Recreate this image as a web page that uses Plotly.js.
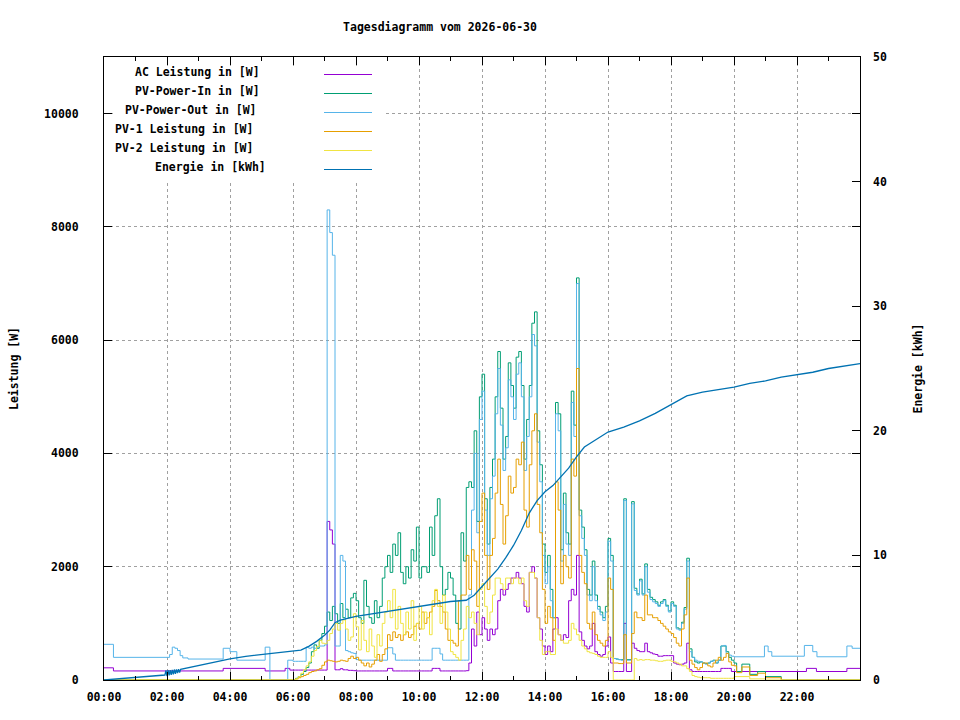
<!DOCTYPE html>
<html>
<head>
<meta charset="utf-8">
<script src="https://cdn.plot.ly/plotly-3.0.1.min.js"></script>
<style>
html,body{margin:0;padding:0;background:#fff;}
#chart{width:960px;height:720px;}
</style>
</head>
<body>
<div id="chart"></div>
<script>
// ---------- DATA ----------
const chartTitle = "Tagesdiagramm vom 2026-06-30";
const seriesNames = ["AC Leistung in [W]", "PV-Power-In in [W]", "PV-Power-Out in [W]",
                     "PV-1 Leistung in [W]", "PV-2 Leistung in [W]", "Energie in [kWh]"];
const xTickLabels = ["00:00","02:00","04:00","06:00","08:00","10:00","12:00","14:00","16:00","18:00","20:00","22:00"];
const yTickValues = [0,2000,4000,6000,8000,10000];
const yTickLabels = ["0","2000","4000","6000","8000","10000"];
const y2TickValues = [0,10,20,30,40,50];
const y2TickLabels = ["0","10","20","30","40","50"];

// night breakpoints (00:00 - 06:00)
const acNightT  = ["00:00","00:18","03:47","05:07","05:45","05:54"];
const acNightV  = [215,160,205,160,205,175];
const outNightT = ["00:00","00:18","02:05","02:10","02:15","02:20","02:25","02:30","02:40","03:47","04:00","04:13","05:07","05:16","05:50"];
const outNightV = [630,400,450,580,560,520,430,390,370,560,500,350,580,0,350];
const inNightT  = ["00:00"];
const inNightV  = [0];
const pv1NightT = ["00:00"];
const pv1NightV = [0];
const pv2NightT = ["00:00"];
const pv2NightV = [0];

// day values, 5-minute readings from 06:00 to 19:55 (one row per hour)
const acDay = [
 175,175,175,175,175,175,175,175,175,175,175,175,
 175,2800,2650,2400,180,180,200,180,180,170,170,165,
 160,160,160,160,160,160,160,160,160,160,160,160,
 205,205,160,160,160,160,160,160,160,160,160,160,
 160,160,160,160,160,205,205,205,160,160,160,160,
 160,160,160,160,160,160,165,300,900,600,1200,800,
 1100,900,700,900,800,900,1400,1600,1500,1600,1700,1800,
 1800,1900,1800,1700,1300,1200,1900,2000,1800,1100,900,600,
 450,600,500,900,1100,800,700,800,750,1400,1600,1500,
 2200,850,700,600,550,600,1000,500,450,420,450,600,
 760,300,150,150,150,150,1000,150,150,650,560,520,
 500,500,650,500,480,460,450,420,420,430,430,430,
 430,300,280,270,280,300,650,180,150,150,150,150,
 150,150,150,150,150,150,150,205,205,205,205,150
];
const inDay = [
 0,30,60,100,150,220,300,500,620,560,700,820,
 950,1200,1050,1300,1170,1000,1350,1100,1250,1100,1450,1530,
 1400,1100,1000,1760,1300,1100,1000,1400,1100,1300,1800,2000,
 2200,1900,2400,2200,2600,1900,1700,2000,1800,2300,2100,2700,
 1800,2000,2000,1900,2700,2200,2900,3200,2000,1500,1600,1900,
 1800,1500,1000,900,2600,2100,3400,3500,3400,4400,2800,5000,
 5400,3200,2400,3400,3900,5000,5800,4800,3900,4300,5600,5200,
 4800,5700,5800,5200,3900,4600,5200,6300,6500,4400,3800,2400,
 1900,2200,1600,1100,4900,4700,2300,3300,2600,2400,5100,4500,
 7100,3000,2700,2300,1600,1500,2100,1500,1300,1200,1100,1300,
 2500,2200,380,370,360,360,3200,360,360,3150,1620,1520,
 1780,1520,2050,1600,1460,1420,1380,1320,1380,1420,1320,1220,
 1380,1320,920,900,1020,1280,2150,550,400,320,300,320,
 300,290,300,330,350,300,350,600,600,500,400,350
];
const outDay = [
 330,330,330,330,330,580,560,580,560,580,600,600,
 620,8300,7900,7500,600,600,2200,2100,520,500,480,470,
 360,350,350,350,350,350,350,350,350,350,350,350,
 570,570,460,350,350,350,350,350,350,350,350,350,
 350,350,350,350,350,560,560,560,460,350,350,350,
 350,350,350,350,350,350,350,1500,3000,4000,2600,4600,
 5100,3000,2200,3200,3600,4700,5500,4500,3700,4100,5300,5000,
 4600,5400,5600,5000,3700,4300,5000,6100,5900,4200,3500,2200,
 1700,2000,1400,1100,4700,4400,2100,3100,2400,2200,4900,4300,
 7000,2900,2500,2200,1500,1400,2000,1400,1250,1150,1050,1200,
 2450,2100,380,370,360,350,3170,350,350,3110,1580,1500,
 1750,1500,2000,1550,1420,1380,1350,1300,1350,1400,1300,1200,
 1350,1300,900,880,1000,1250,2100,500,400,350,330,320,
 300,280,300,330,340,300,350,600,610,470,440,420
];
const pv1Day = [
 0,20,40,60,80,100,130,150,160,180,200,260,
 320,350,340,330,320,330,350,340,330,380,420,380,
 400,350,300,250,300,230,280,350,450,330,450,550,
 800,700,850,750,800,700,800,850,750,800,950,1000,
 900,1200,1000,1100,1200,1300,1580,1400,1300,1200,900,700,
 700,650,600,1400,1500,1500,2200,1600,2300,2100,1300,2800,
 3300,2200,1600,2200,2500,3300,3900,3100,2400,2900,3600,3300,
 3400,3900,3800,4200,3000,2700,3800,4400,4700,3100,2600,1600,
 1000,1300,1100,700,3500,3000,1700,2200,2000,1800,3900,3600,
 5500,2200,1900,1700,1000,900,1200,800,700,650,600,700,
 1800,1600,300,300,290,290,800,300,300,820,1200,1100,
 1100,1050,1500,1150,1150,1100,1100,1050,1000,950,900,850,
 820,750,650,600,900,1150,1800,350,280,220,180,220,
 300,300,250,230,300,350,400,350,400,470,320,260
];
const pv2Day = [
 0,20,60,120,180,250,320,420,520,590,700,650,
 640,700,820,900,1000,880,1000,1060,900,700,760,1170,
 940,530,1050,700,500,900,600,400,800,600,1000,1200,
 1400,1100,1600,900,1300,1000,800,1200,900,1400,700,1000,
 1300,900,1200,1100,800,1400,1600,1300,1000,1500,1200,900,
 500,450,400,350,700,900,1300,1100,1200,1000,800,1600,
 1700,1300,1000,1200,1500,1800,1800,1700,1600,1800,1800,1700,
 1800,1800,1700,1800,1400,1300,1900,1900,1800,1100,700,450,
 500,500,450,450,900,800,700,650,650,700,1000,900,
 800,700,600,550,500,480,470,450,420,400,400,400,
 500,400,0,0,0,0,0,0,0,0,380,350,
 360,350,360,360,350,350,340,330,330,340,350,350,
 330,320,300,280,250,250,200,150,80,60,50,40,
 40,40,40,30,30,30,30,30,30,30,30,30
];

// evening breakpoints (20:00 - 24:00)
const acEveT  = ["20:00","22:18","22:37","23:35","24:00"];
const acEveV  = [150,205,150,205,205];
const outEveT = ["20:00","20:58","21:05","21:12","22:14","22:30","22:38","23:35","23:45","24:00"];
const outEveV = [410,600,500,420,610,500,410,600,560,560];
const inEveT  = ["20:00","20:05","20:15","20:30","20:45","21:00","21:30","24:00"];
const inEveV  = [300,150,280,100,150,60,0,0];
const pv1EveT = ["20:00","20:05","20:15","20:30","20:45","21:00","21:30","24:00"];
const pv1EveV = [250,130,230,80,120,40,0,0];
const pv2EveT = ["20:00","20:30","21:00","24:00"];
const pv2EveV = [60,20,0,0];

// energy (kWh)
const energyT = ["00:00","01:56","01:58","02:00","02:02","02:04","02:06","02:08","02:10","02:12","02:14","02:16","02:18","02:20","02:22","02:24","02:26",
  "03:00","03:30","04:00","04:30","05:00","05:30","06:00","06:15","06:30","06:45","07:00","07:10","07:20","07:30","08:00","08:30","09:00","09:30",
  "10:00","10:30","11:00","11:30","11:45","12:00","12:15","12:30","12:45","13:00","13:15","13:30","13:45","14:00","14:15","14:30","14:45",
  "15:00","15:15","15:30","15:45","16:00","16:30","17:00","17:30","18:00","18:30","19:00","19:30","20:00","20:30","21:00","21:30",
  "22:00","22:30","23:00","23:30","24:00"];
const energyV = [0,0.4,0.78,0.32,0.8,0.38,0.8,0.42,0.82,0.46,0.84,0.5,0.85,0.55,0.87,0.6,0.85,
  1.15,1.4,1.7,1.9,2.05,2.2,2.3,2.4,2.7,3.1,3.6,4.0,4.6,4.8,5.1,5.3,5.55,5.75,
  5.9,6.1,6.3,6.4,6.8,7.5,8.2,8.9,9.8,10.8,12.0,13.4,14.4,15.1,15.6,16.3,17.0,
  17.9,18.7,19.1,19.5,19.9,20.3,20.8,21.4,22.1,22.8,23.1,23.3,23.5,23.8,24.0,24.3,
  24.5,24.7,25.0,25.2,25.4];

const colors = ["#9400d3","#009e73","#56b4e9","#e69f00","#f0e442","#0072b2"];

// ---------- BUILD ----------
function toHours(s){ const p = s.split(":"); return (+p[0]) + (+p[1])/60; }
const dayHours = [];
for (let i = 0; i < acDay.length; i++) dayHours.push(6 + i*5/60);

function build(nT, nV, dV, eT, eV){
  return {
    x: nT.map(toHours).concat(dayHours, eT.map(toHours)),
    y: nV.concat(dV, eV)
  };
}
const sets = [
  build(acNightT, acNightV, acDay, acEveT, acEveV),
  build(inNightT, inNightV, inDay, inEveT, inEveV),
  build(outNightT, outNightV, outDay, outEveT, outEveV),
  build(pv1NightT, pv1NightV, pv1Day, pv1EveT, pv1EveV),
  build(pv2NightT, pv2NightV, pv2Day, pv2EveT, pv2EveV)
];
const traces = sets.map((s, i) => ({
  type: "scatter", mode: "lines", x: s.x, y: s.y, name: seriesNames[i],
  line: {color: colors[i], width: 1, shape: "hv"}, showlegend: false, hoverinfo: "skip"
}));
traces.push({
  type: "scatter", mode: "lines", x: energyT.map(toHours), y: energyV, name: seriesNames[5],
  yaxis: "y2", line: {color: colors[5], width: 1.3}, showlegend: false, hoverinfo: "skip"
});

const F = {family: "DejaVu Sans Mono, monospace", size: 11.5, color: "#000", weight: "bold"};

// custom gnuplot-like key: text then line sample
const PL = 104, PR = 860, PT = 57, PB = 680;
const px = v => (v - PL) / (PR - PL);
const py = v => (PB - v) / (PB - PT);
const keyTextX = [133,133,123,113,113,153];
const keyRowY  = [72,91,110,129,148,167];
const annotations = seriesNames.map((n, i) => ({
  xref: "paper", yref: "paper", x: px(keyTextX[i]), y: py(keyRowY[i]),
  xanchor: "left", yanchor: "middle", text: n, showarrow: false, font: F
}));
const shapes = [{
  type: "rect", xref: "paper", yref: "paper", x0: px(113), x1: px(383), y0: py(181), y1: py(66),
  fillcolor: "#fff", line: {width: 0}, layer: "above"
}, {
  type: "rect", xref: "paper", yref: "paper", x0: px(105), x1: px(113), y0: py(181), y1: py(118),
  fillcolor: "#fff", line: {width: 0}, layer: "above"
}, {
  type: "rect", xref: "paper", yref: "paper", x0: px(105), x1: px(113), y0: py(108), y1: py(66),
  fillcolor: "#fff", line: {width: 0}, layer: "above"
}];
seriesNames.forEach((n, i) => shapes.push({
  type: "line", xref: "paper", yref: "paper", x0: px(324), x1: px(372),
  y0: py(keyRowY[i] + 2.5), y1: py(keyRowY[i] + 2.5),
  line: {color: colors[i], width: 1.2}, layer: "above"
}));

const layout = {
  width: 960, height: 720,
  margin: {l: 104, r: 100, t: 57, b: 40},
  paper_bgcolor: "#fff", plot_bgcolor: "#fff",
  font: F,
  title: {text: chartTitle, font: F, xref: "container", yref: "container",
          x: 440/960, y: 1 - 27/720, xanchor: "center", yanchor: "middle"},
  xaxis: {
    range: [0, 24], tickmode: "array",
    tickvals: xTickLabels.map(toHours), ticktext: xTickLabels,
    ticks: "inside", ticklen: 8, tickwidth: 1, tickcolor: "#000",
    showline: true, linecolor: "#000", linewidth: 1, mirror: "ticks",
    showgrid: true, gridcolor: "#a0a0a0", griddash: "dot", gridwidth: 1,
    zeroline: false, ticklabelstandoff: 6, tickfont: F,
    minor: {tickmode: "linear", tick0: 0, dtick: 1, ticks: "inside", ticklen: 4, tickcolor: "#000", showgrid: false}
  },
  yaxis: {
    range: [0, 11000], tickmode: "array", tickvals: yTickValues, ticktext: yTickLabels,
    ticks: "inside", ticklen: 8, tickwidth: 1, tickcolor: "#000",
    showline: true, linecolor: "#000", linewidth: 1, mirror: "ticks",
    showgrid: true, gridcolor: "#a0a0a0", griddash: "dot", gridwidth: 1,
    zeroline: false, ticklabelstandoff: 22, tickfont: F,
    title: {text: "Leistung [W]", font: F, standoff: 23}
  },
  yaxis2: {
    overlaying: "y", side: "right", range: [0, 50], tickmode: "array",
    tickvals: y2TickValues, ticktext: y2TickLabels,
    ticks: "inside", ticklen: 8, tickwidth: 1, tickcolor: "#000",
    showline: false, showgrid: false, zeroline: false, ticklabelstandoff: 12, tickfont: F,
    title: {text: "Energie [kWh]", font: F, standoff: 28}
  },
  annotations: annotations,
  shapes: shapes
};

Plotly.newPlot("chart", traces, layout, {displayModeBar: false, staticPlot: true});
</script>
</body>
</html>
